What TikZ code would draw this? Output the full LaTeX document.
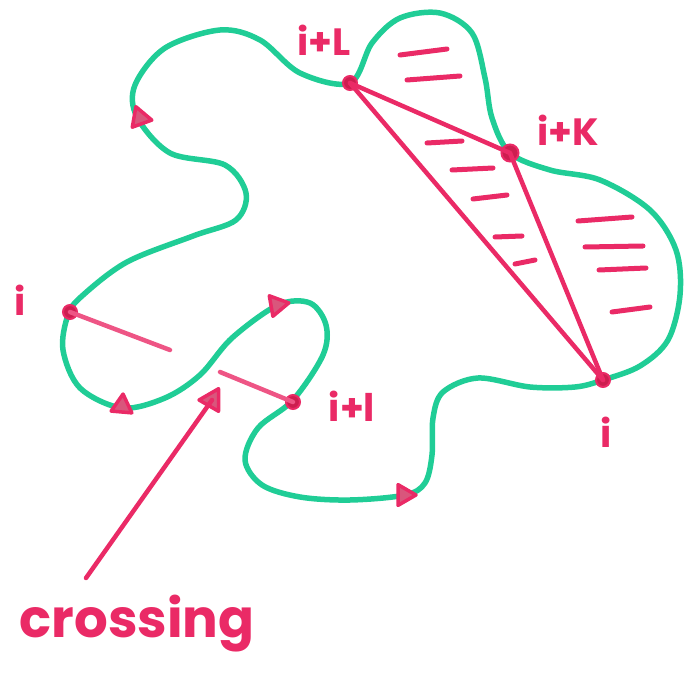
\documentclass[tikz,border=0pt]{standalone}
\usepackage{fontspec}
\setmainfont{Poppins}
\usetikzlibrary{shapes.geometric}
\definecolor{loopgreen}{RGB}{32,205,150}
\definecolor{pen}{RGB}{234,42,102}
\definecolor{dotc}{RGB}{205,30,80}
\begin{document}
\begin{tikzpicture}[x=1pt,y=-1pt,
  loop/.style={loopgreen,line width=5.5pt,line cap=round,line join=round},
  chord/.style={pen,line width=4.5pt,line cap=round},
  hatch/.style={pen,line width=5pt,line cap=round},
  vdot/.style={circle,fill=dotc,draw=pen,line width=2pt,inner sep=0pt,minimum size=14pt},
  tri/.style={regular polygon,regular polygon sides=3,draw=pen,fill=dotc!75!white,line width=3.5pt,inner sep=0pt,minimum size=24pt,line join=round},
  lab/.style={text=pen,font=\bfseries\fontsize{38}{38}\selectfont,inner sep=0pt}]
\useasboundingbox (0,0) rectangle (685,684);
% closed curve
\draw[loop] plot[smooth cycle,tension=0.55] coordinates {
 (350,83) (300,73) (260,40) (220,30) (165,48) (135,85) (137,117) (170,153)
 (225,165) (246,193) (236,220) (193,236) (127,262) (82,296) (68,315)
 (63,350) (80,388) (122,408) (165,398) (200,375) (232,338) (278,305)
 (310,303) (326,325) (323,355) (293,400) (258,428) (245,460) (262,485)
 (300,497) (350,500) (405,495) (425,483) (432,455) (433,418) (443,392)
 (478,378) (530,387) (575,387) (603,380) (640,366) (668,340) (680,295)
 (676,250) (650,210) (600,180) (550,170) (510,153) (492,118) (485,78)
 (472,33) (440,13) (400,18) (372,43)};
% vertices
\node[vdot] (vL) at (350,83) {};
\node[vdot,minimum size=17pt] (vK) at (510,153) {};
\node[vdot] (vR) at (603,380) {};
\node[vdot] (vI) at (70,312) {};
\node[vdot] (vl) at (293,402) {};
\coordinate (eI) at (170,350);
\coordinate (el) at (220,372);
% chords
\draw[chord] (vL.center) -- (vK.center);
\draw[chord] (vL.center) -- (vR.center);
\draw[chord] (vK.center) -- (vR.center);
\draw[chord,pen!80!white] (vI.center) -- (eI);
\draw[chord,pen!80!white] (vl.center) -- (el);
% hatching
\coordinate (h1a) at (400,55); \coordinate (h1b) at (447,49);
\coordinate (h2a) at (407,80); \coordinate (h2b) at (460,76);
\coordinate (h3a) at (427,143); \coordinate (h3b) at (462,141);
\coordinate (h4a) at (452,170); \coordinate (h4b) at (493,168);
\coordinate (h5a) at (473,199); \coordinate (h5b) at (507,195);
\coordinate (h6a) at (495,237); \coordinate (h6b) at (522,236);
\coordinate (h7a) at (515,264); \coordinate (h7b) at (535,260);
\coordinate (h8a) at (578,221); \coordinate (h8b) at (632,217);
\coordinate (h9a) at (585,247); \coordinate (h9b) at (643,246);
\coordinate (h10a) at (599,270); \coordinate (h10b) at (646,268);
\coordinate (h11a) at (612,312); \coordinate (h11b) at (650,307);
\foreach \k in {1,...,11} {\draw[hatch] (h\k a) -- (h\k b);}
% direction triangles
\node[tri,rotate=20] (t1) at (140,118) {};
\node[tri,rotate=-5] (t2) at (122,406) {};
\node[tri,rotate=-80] (t3) at (277,305) {};
\node[tri,rotate=-90] (t4) at (404,495) {};
% crossing arrow
\coordinate (cs) at (86,578);
\node[tri,rotate=-30,minimum size=26pt] (ct) at (212,400) {};
\draw[chord] (cs) -- (ct.center);
% labels
\node[lab] (lI) at (20,300) {i};
\node[lab] (lL) at (324,40) {i+L};
\node[lab] (lK) at (568,130) {i+K};
\node[lab] (ll) at (352,406) {i+l};
\node[lab] (lR) at (606,432) {i};
\node[lab,font=\bfseries\fontsize{53}{53}\selectfont] (lc) at (137,624) {crossing};
\end{tikzpicture}
\end{document}
